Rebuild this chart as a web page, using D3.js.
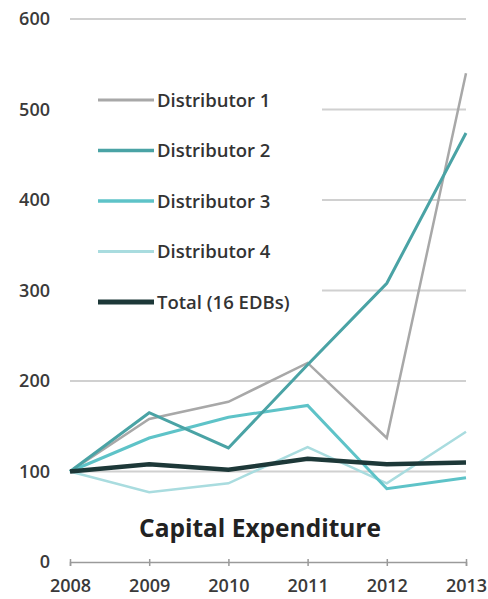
<!DOCTYPE html>
<html>
<head>
<meta charset="utf-8">
<script src="https://cdn.jsdelivr.net/npm/d3@7/dist/d3.min.js"></script>
<style>
  html, body { margin: 0; padding: 0; background: #fff; }
  svg { display: block; font-family: "Open Sans", Lato, sans-serif; }
</style>
</head>
<body>
<svg id="chart" width="488" height="599"></svg>
<script>
// Capital expenditure index (2008 = 100)
const years = [2008, 2009, 2010, 2011, 2012, 2013];
const distributor1 = [100, 158, 177, 220, 137, 540];
const distributor2 = [100, 165, 126, 218, 308, 474];
const distributor3 = [100, 137, 160, 173, 81, 93];
const distributor4 = [100, 77, 87, 127, 87, 144];
const total16 = [100, 108, 102, 114, 108, 110];
const yTicks = [0, 100, 200, 300, 400, 500, 600];
const seriesNames = ["Distributor 1", "Distributor 2", "Distributor 3", "Distributor 4", "Total (16 EDBs)"];
const seriesColors = ["#a8a8a8", "#4aa3a5", "#5ec3c8", "#a9dcdf", "#1d3838"];
const seriesWidths = [2.5, 3, 3, 2.5, 4.5];

const seriesValues = [distributor1, distributor2, distributor3, distributor4, total16];

const svg = d3.select("#chart");
const x = d3.scaleLinear().domain([2008, 2013]).range([70, 466]);
const y = d3.scaleLinear().domain([0, 600]).range([562, 19]);

// Horizontal gridlines
svg.append("g")
  .selectAll("line")
  .data(yTicks.filter(d => d > 0))
  .join("line")
  .attr("x1", x(2008)).attr("x2", x(2013))
  .attr("y1", d => y(d)).attr("y2", d => y(d))
  .attr("stroke", "#d0d0d0")
  .attr("stroke-width", 2);

// Y tick labels
svg.append("g")
  .selectAll("text")
  .data(yTicks)
  .join("text")
  .attr("x", 50)
  .attr("y", d => y(d))
  .attr("dy", "0.36em")
  .attr("text-anchor", "end")
  .attr("fill", "#3a3a3a")
  .attr("font-size", 18)
  .attr("font-weight", 600)
  .text(d => d);

// X axis
const xAxis = d3.axisBottom(x)
  .tickValues(years)
  .tickFormat(d3.format("d"))
  .tickSize(4)
  .tickPadding(14);
const gx = svg.append("g")
  .attr("transform", `translate(0,${y(0)})`)
  .call(xAxis);
gx.select(".domain").attr("stroke", "#9a9a9a").attr("stroke-width", 1.5);
gx.selectAll(".tick line").attr("stroke", "#9a9a9a").attr("stroke-width", 1.5).attr("y1", -3);
gx.selectAll(".tick text")
  .attr("fill", "#3a3a3a")
  .attr("font-size", 18)
  .attr("font-weight", 600)
  .attr("font-family", "'Open Sans', Lato, sans-serif")
  .attr("dy", "0.66em");

// Legend panel sits above the gridlines
svg.append("rect")
  .attr("x", 60).attr("y", 70)
  .attr("width", 262).attr("height", 258)
  .attr("fill", "#fff");

// Series lines
const line = d3.line()
  .x((d, i) => x(years[i]))
  .y(d => y(d));

const order = [0, 3, 2, 1, 4];
svg.append("g")
  .selectAll("path")
  .data(order)
  .join("path")
  .attr("d", k => line(seriesValues[k]))
  .attr("fill", "none")
  .attr("stroke", k => seriesColors[k])
  .attr("stroke-width", k => seriesWidths[k])
  .attr("stroke-linejoin", "miter");

// Legend
const legend = svg.append("g")
  .selectAll("g")
  .data(seriesNames)
  .join("g")
  .attr("transform", (d, i) => `translate(0,${100 + i * 50.5})`);
legend.append("line")
  .attr("x1", 98).attr("x2", 154)
  .attr("y1", 0).attr("y2", 0)
  .attr("stroke", (d, i) => seriesColors[i])
  .attr("stroke-width", (d, i) => seriesWidths[i] + 0.5);
legend.append("text")
  .attr("x", 157)
  .attr("y", 0)
  .attr("dy", "0.36em")
  .attr("fill", "#333")
  .attr("font-size", 18.5)
  .attr("font-weight", 600)
  .text(d => d);

// Title
svg.append("text")
  .attr("x", 260)
  .attr("y", 537)
  .attr("text-anchor", "middle")
  .attr("fill", "#222")
  .attr("font-size", 24.5)
  .attr("font-weight", 700)
  .text("Capital Expenditure");
</script>
</body>
</html>
